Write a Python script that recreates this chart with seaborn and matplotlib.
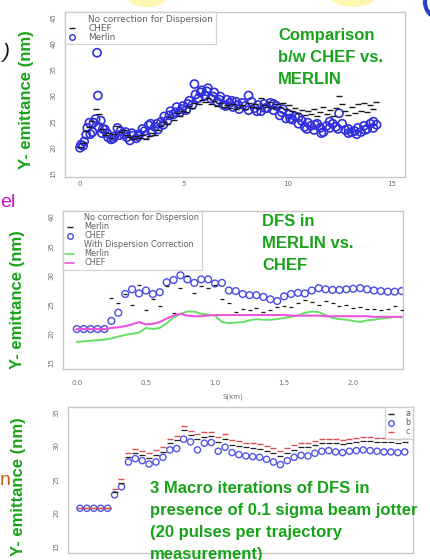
import matplotlib
matplotlib.use("Agg")
import numpy as np
import pandas as pd
import matplotlib.pyplot as plt
import seaborn as sns
from matplotlib.lines import Line2D
from matplotlib.patches import Ellipse, Arc

# ---- panel 1: CHEF vs MERLIN, no dispersion correction (s in km, emittance in nm)
s1 = [0.0, 0.15, 0.3, 0.45, 0.6, 0.75, 0.9, 1.05, 1.2, 1.35, 1.5, 1.65, 1.8, 1.95, 2.1, 2.25,
      2.4, 2.55, 2.7, 2.85, 3.0, 3.15, 3.3, 3.45, 3.6, 3.75, 3.9, 4.05, 4.2, 4.35, 4.5, 4.65,
      4.8, 4.95, 5.1, 5.25, 5.4, 5.55, 5.7, 5.85, 6.0, 6.15, 6.3, 6.45, 6.6, 6.75, 6.9, 7.05,
      7.2, 7.35, 7.5, 7.65, 7.8, 7.95, 8.1, 8.25, 8.4, 8.55, 8.7, 8.85, 9.0, 9.15, 9.3, 9.45,
      9.6, 9.75, 9.9, 10.05, 10.2, 10.35, 10.5, 10.65, 10.8, 10.95, 11.1, 11.25, 11.4, 11.55,
      11.7, 11.85, 12.0, 12.15, 12.3, 12.45, 12.6, 12.75, 12.9, 13.05, 13.2, 13.35, 13.5,
      13.65, 13.8, 13.95, 14.1, 14.25]
merlin1 = [20.0, 20.4, 22.5, 24.8, 23.0, 25.5, 24.0, 22.8, 23.5, 22.0,
           21.6, 22.2, 23.8, 23.2, 22.6, 22.0, 21.4, 22.3, 21.8, 22.6,
           23.6, 22.4, 24.3, 23.0, 24.0, 23.5, 25.0, 26.0, 25.2, 27.0,
           26.4, 27.8, 26.8, 28.0, 27.2, 29.0, 28.2, 30.2, 29.5, 31.0,
           30.0, 31.4, 29.4, 30.6, 28.8, 29.8, 28.2, 29.2, 28.6, 27.8,
           28.8, 27.4, 28.6, 28.0, 27.2, 28.8, 27.6, 28.2, 27.0, 28.4,
           27.6, 28.6, 27.2, 28.0, 26.2, 27.4, 25.6, 26.4, 25.4, 26.0,
           24.6, 25.2, 24.0, 24.8, 24.2, 23.4, 24.6, 23.8, 23.0, 24.2,
           23.8, 24.6, 24.0, 26.6, 24.6, 23.4, 23.6, 23.0, 23.2, 23.8,
           23.0, 24.2, 23.6, 24.6, 23.8, 24.4]
chef1 = [20.2, 21.0, 23.2, 24.0, 25.2, 27.5, 26.4, 23.6, 22.4, 22.8,
         21.8, 22.6, 24.2, 23.0, 23.4, 22.4, 22.0, 21.6, 22.2, 21.8,
         22.4, 21.6, 22.2, 22.8, 22.4, 23.4, 24.2, 25.0, 24.6, 25.8,
         25.4, 26.6, 26.0, 27.0, 26.8, 28.0, 27.6, 28.6, 28.4, 29.2,
         28.8, 29.6, 28.4, 29.0, 28.0, 28.6, 27.8, 28.2, 27.6, 28.4,
         27.4, 27.8, 28.2, 27.4, 28.6, 27.8, 28.4, 27.6, 29.6, 28.2,
         27.8, 28.8, 27.6, 28.4, 27.8, 28.6, 27.4, 28.2, 27.0, 27.6,
         26.6, 27.2, 26.2, 27.0, 26.4, 27.4, 26.0, 26.8, 27.8, 26.4,
         27.2, 26.0, 27.6, 30.0, 28.4, 27.0, 26.2, 27.8, 26.6, 28.4,
         27.0, 28.6, 26.8, 28.2, 27.4, 28.8]
# extra Merlin points in between (incl. the two early outliers)
merlin1_extra_s = [0.05, 0.2, 0.35, 0.5, 0.65, 0.82, 0.86, 1.0, 1.1, 1.3, 1.6, 1.9, 2.2, 2.5,
                   2.8, 3.1, 3.4, 3.7, 4.0, 4.3, 4.6, 4.9, 5.2, 5.5, 5.8, 6.1, 6.4, 6.7, 7.0,
                   7.3, 7.6, 8.1, 8.5, 8.9, 9.3, 9.7, 10.1, 10.5, 10.9, 11.3, 11.6, 12.0,
                   12.4, 12.9, 13.3, 13.7, 14.1]
merlin1_extra_y = [20.6, 21.2, 23.8, 22.6, 24.8, 38.2, 30.0, 25.2, 23.6, 22.8, 21.8, 22.4,
                   23.0, 22.8, 22.2, 23.2, 24.6, 24.6, 24.4, 26.2, 26.8, 27.4, 28.4, 32.2,
                   30.6, 30.8, 29.8, 29.2, 28.0, 29.0, 28.2, 30.0, 27.0, 27.6, 28.4, 26.8,
                   25.6, 25.8, 23.6, 24.4, 22.8, 25.0, 23.6, 22.8, 22.6, 23.4, 25.0]

# ---- panels 2 and 3 share the same s grid
s2 = [0.0, 0.05, 0.1, 0.15, 0.2, 0.25, 0.3, 0.35, 0.4, 0.45, 0.5, 0.55, 0.6, 0.65, 0.7, 0.75,
      0.8, 0.85, 0.9, 0.95, 1.0, 1.05, 1.1, 1.15, 1.2, 1.25, 1.3, 1.35, 1.4, 1.45, 1.5, 1.55,
      1.6, 1.65, 1.7, 1.75, 1.8, 1.85, 1.9, 1.95, 2.0, 2.05, 2.1, 2.15, 2.2, 2.25, 2.3, 2.35]
merlin2_nocorr = [20.8, 20.8, 20.8, 20.8, 20.8, 26.1, 25.2, 26.8, 25.0, 28.3, 24.0, 26.0,
                  24.8, 28.2, 23.6, 27.8, 29.8, 27.0, 28.2, 27.8, 28.4, 26.0, 25.2, 23.8,
                  24.3, 24.0, 24.4, 23.7, 24.1, 24.5, 24.8, 24.5, 25.2, 25.8, 25.5, 25.0,
                  25.6, 25.2, 24.7, 25.0, 24.4, 24.5, 24.2, 24.3, 24.0, 24.2, 24.8, 24.0]
chef2_nocorr = [20.8, 20.8, 20.8, 20.8, 20.8, 22.2, 23.6, 26.8, 27.6, 26.9, 27.4, 26.8,
                27.1, 28.8, 29.2, 30.0, 29.3, 28.7, 29.3, 29.3, 28.6, 28.7, 27.4, 27.3,
                26.8, 26.6, 26.6, 26.3, 25.9, 25.6, 26.4, 26.8, 27.0, 26.9, 27.4, 27.8,
                27.6, 27.5, 27.5, 27.6, 27.7, 27.8, 27.6, 27.4, 27.3, 27.2, 27.2, 27.3]
merlin2_corr = [18.6, 18.7, 18.8, 18.9, 19.0, 19.2, 19.5, 19.8, 20.0, 20.2, 21.0, 20.8,
                21.0, 21.8, 22.8, 23.4, 23.8, 23.8, 23.4, 23.3, 23.1, 22.0, 21.8, 21.9,
                22.0, 22.3, 22.5, 22.4, 22.4, 22.5, 22.7, 22.9, 23.1, 23.6, 23.8, 23.7,
                23.2, 22.7, 22.5, 22.4, 22.2, 22.0, 22.3, 22.4, 22.6, 22.7, 22.9, 22.8]
chef2_corr = [20.8, 20.8, 20.8, 20.8, 20.8, 21.0, 21.1, 21.3, 21.6, 22.0, 21.6, 21.7,
              22.0, 22.6, 23.1, 23.4, 23.1, 23.0, 23.0, 23.1, 23.2, 23.2, 23.2, 23.2,
              23.2, 23.2, 23.2, 23.2, 23.2, 23.2, 23.2, 23.1, 23.1, 23.1, 23.1, 23.1,
              23.0, 23.0, 23.0, 23.0, 23.0, 23.0, 23.0, 22.9, 22.9, 22.9, 22.9, 22.9]

# ---- panel 3: three macro iterations
iter_a = [20.7, 20.7, 20.7, 20.7, 20.7, 23.2, 24.4, 28.4, 28.9, 28.6, 28.2, 28.7,
          29.1, 30.4, 30.9, 32.4, 31.6, 31.0, 31.4, 31.5, 30.6, 31.0, 30.2, 30.0,
          29.8, 29.7, 29.6, 29.3, 29.0, 28.5, 29.0, 29.4, 29.8, 29.8, 30.1, 30.4,
          30.5, 30.4, 30.3, 30.4, 30.6, 30.7, 30.7, 30.6, 30.6, 30.6, 30.5, 30.6]
iter_b = [20.7, 20.7, 20.7, 20.7, 20.7, 22.7, 23.9, 27.6, 28.1, 27.8, 27.3, 27.6,
          28.3, 29.4, 29.6, 31.0, 30.6, 29.4, 30.4, 30.5, 29.2, 29.8, 29.0, 28.7,
          28.5, 28.4, 28.3, 28.0, 27.6, 27.2, 27.8, 28.3, 28.6, 28.5, 28.9, 29.2,
          29.3, 29.1, 29.0, 29.2, 29.3, 29.4, 29.3, 29.2, 29.1, 29.1, 29.0, 29.1]
iter_c = [20.7, 20.7, 20.7, 20.7, 20.7, 23.6, 25.0, 29.0, 29.6, 29.3, 29.0, 29.4,
          29.8, 31.1, 31.5, 33.0, 32.2, 31.7, 32.0, 32.1, 31.3, 31.7, 30.9, 30.7,
          30.5, 30.4, 30.3, 30.0, 29.7, 29.3, 29.7, 30.1, 30.4, 30.4, 30.7, 31.0,
          31.1, 31.0, 30.9, 31.0, 31.2, 31.3, 31.3, 31.2, 31.2, 31.2, 31.1, 31.2]

GREEN = "#17a317"
BLUE = "#2f2fe0"

sns.set_style("white")
plt.rcParams["font.family"] = ["Liberation Sans", "DejaVu Sans"]

fig = plt.figure(figsize=(4.3, 5.6), dpi=100)


def px_box(left, top, right, bottom):
    # axes rectangle from pixel edges of the 430x560 canvas
    return [left / 430, 1 - bottom / 560, (right - left) / 430, (bottom - top) / 560]


def r_style(ax, xlim, ylim, xticks, xlabels, yticks):
    ax.set_xlim(*xlim)
    ax.set_ylim(*ylim)
    ax.set_xticks(xticks)
    ax.set_xticklabels(xlabels, family="DejaVu Sans")
    ax.set_yticks(yticks)
    ax.set_yticklabels([str(v) for v in yticks], rotation=90, va="center",
                       family="DejaVu Sans")
    for sp in ax.spines.values():
        sp.set_color("#c8c8c8")
        sp.set_linewidth(1.0)
    ax.tick_params(axis="both", length=4, width=0.8, color="#b8b8b8",
                   labelsize=5, labelcolor="#707070", pad=2)
    ax.set_xlabel("")
    ax.set_ylabel("")


def legend_box(ax, handles, loc, anchor, size=6.0):
    leg = ax.legend(handles=handles, loc=loc, bbox_to_anchor=anchor, borderaxespad=0,
                    prop={"family": "DejaVu Sans", "size": size}, frameon=True,
                    fancybox=False, handlelength=1.0, handletextpad=1.3, borderpad=0.3,
                    labelspacing=0.0)
    leg.get_frame().set_edgecolor("#c8c8c8")
    leg.get_frame().set_linewidth(0.9)
    for t in leg.get_texts():
        t.set_color("#606060")
    return leg


# ---------------- panel 1
ax1 = fig.add_axes(px_box(65, 12, 405, 177))
df_merlin1 = pd.DataFrame({"s": s1 + merlin1_extra_s, "emit": merlin1 + merlin1_extra_y})
df_chef1 = pd.DataFrame({"s": s1, "emit": chef1})
sns.scatterplot(data=df_chef1, x="s", y="emit", ax=ax1, marker="_", color="#1a1a1a",
                s=14, linewidth=1.0, legend=False, zorder=3)
sns.scatterplot(data=df_merlin1, x="s", y="emit", ax=ax1, marker="o", facecolors="none",
                edgecolor=BLUE, s=34, linewidth=1.2, legend=False, zorder=2)
r_style(ax1, (-0.72, 15.62), (14.4, 46.0), [0, 5, 10, 15], ["0", "5", "10", "15"],
        [15, 20, 25, 30, 35, 40, 45])
ax1.tick_params(axis="x", length=2, pad=1)
legend_box(ax1, [
    Line2D([], [], linestyle="none", label="No correction for Dispersion"),
    Line2D([], [], linestyle="none", marker="_", color="#1a1a1a", markersize=4, label="CHEF"),
    Line2D([], [], linestyle="none", marker="o", mfc="none", mec=BLUE, markersize=4,
           label="Merlin"),
], "upper left", (0, 1), size=6.4)

# ---------------- panel 2
ax2 = fig.add_axes(px_box(63, 211, 403, 369))
df2 = pd.DataFrame({"s": s2, "merlin_nc": merlin2_nocorr, "chef_nc": chef2_nocorr,
                    "merlin_c": merlin2_corr, "chef_c": chef2_corr})
sns.scatterplot(data=df2, x="s", y="merlin_nc", ax=ax2, marker="_", color="#1a1a1a",
                s=12, linewidth=0.9, legend=False, zorder=3)
sns.scatterplot(data=df2, x="s", y="chef_nc", ax=ax2, marker="o", facecolors="none",
                edgecolor="#4a4ae6", s=24, linewidth=1.0, legend=False, zorder=2)
sns.lineplot(data=df2, x="s", y="merlin_c", ax=ax2, color="#66e066", linewidth=1.4,
             estimator=None, errorbar=None, legend=False, zorder=4)
sns.lineplot(data=df2, x="s", y="chef_c", ax=ax2, color="#ee55dd", linewidth=1.5,
             estimator=None, errorbar=None, legend=False, zorder=5)
r_style(ax2, (-0.10, 2.36), (13.97, 41.0), [0.0, 0.5, 1.0, 1.5, 2.0],
        ["0.0", "0.5", "1.0", "1.5", "2.0"], [15, 20, 25, 30, 35, 40])
ax2.tick_params(axis="x", pad=4)
legend_box(ax2, [
    Line2D([], [], linestyle="none", label="No correction for Dispersion"),
    Line2D([], [], linestyle="none", marker="_", color="#1a1a1a", markersize=4, label="Merlin"),
    Line2D([], [], linestyle="none", marker="o", mfc="none", mec="#4a4ae6", markersize=4,
           label="CHEF"),
    Line2D([], [], linestyle="none", label="With Dispersion Correction"),
    Line2D([], [], color="#66e066", linewidth=1.2, label="Merlin"),
    Line2D([], [], color="#ee55dd", linewidth=1.2, label="CHEF"),
], "upper left", (0, 1), size=5.9)

# ---------------- panel 3 (its x tick labels fall below the slide crop)
ax3 = fig.add_axes(px_box(68, 407, 413, 553))
df3 = pd.DataFrame({"s": s2, "a": iter_a, "b": iter_b, "c": iter_c})
sns.scatterplot(data=df3, x="s", y="a", ax=ax3, marker="_", color="#222222",
                s=16, linewidth=0.9, legend=False, zorder=3)
sns.scatterplot(data=df3, x="s", y="b", ax=ax3, marker="o", facecolors="none",
                edgecolor="#5555e8", s=20, linewidth=1.0, legend=False, zorder=2)
sns.scatterplot(data=df3, x="s", y="c", ax=ax3, marker="_", color="#e05050",
                s=20, linewidth=1.0, legend=False, zorder=4)
r_style(ax3, (-0.087, 2.41), (14.03, 35.8), [0.0, 0.5, 1.0, 1.5, 2.0],
        ["", "", "", "", ""], [15, 20, 25, 30, 35])
legend_box(ax3, [
    Line2D([], [], linestyle="none", marker="_", color="#222222", markersize=4, label="a"),
    Line2D([], [], linestyle="none", marker="o", mfc="none", mec="#5555e8", markersize=4,
           label="b"),
    Line2D([], [], linestyle="none", marker="_", color="#e05050", markersize=4, label="c"),
], "upper right", (1, 1), size=5.8)

fig.text(233 / 430, 1 - 397 / 560, "S(km)", fontsize=5, color="#707070",
         ha="center", va="center", family="DejaVu Sans")

# ---------------- slide text around the plots
ylab = dict(fontsize=12, fontweight="bold", color=GREEN, rotation=90,
            ha="center", va="center")
fig.text(27 / 430, 1 - 100 / 560, "Y- emittance (nm)", **ylab)
fig.text(18 / 430, 1 - 300 / 560, "Y- emittance (nm)", **ylab)
fig.text(19 / 430, 1 - 487 / 560, "Y- emittance (nm)", **ylab)

note = dict(fontsize=12, fontweight="bold", color=GREEN, ha="left", va="top",
            linespacing=1.57)
fig.text(278 / 430, 1 - 28 / 560, "Comparison\nb/w CHEF vs.\nMERLIN", **note)
fig.text(262 / 430, 1 - 214 / 560, "DFS in\nMERLIN vs.\nCHEF", **note)
fig.text(150 / 430, 1 - 481 / 560,
         "3 Macro iterations of DFS in\npresence of 0.1 sigma beam jotter\n"
         "(20 pulses per trajectory\nmeasurement)", **note)

fig.text(2 / 430, 1 - 53 / 560, ")", fontsize=15, color="#111111", ha="left", va="center",
         style="italic")
fig.text(0, 1 - 207 / 560, "el", fontsize=14, color="#d010c8", ha="left",
         va="baseline")
fig.text(0, 1 - 485 / 560, "n", fontsize=14, color="#b8661e", ha="left",
         va="baseline")

# decorations cut off at the top edge of the slide
for cx, w in [(147, 40), (353, 46)]:
    fig.add_artist(Ellipse((cx / 430, 1 + 4 / 560), w / 430, 22 / 560,
                           transform=fig.transFigure, color="#fff6b0", lw=0))
fig.add_artist(Arc((442 / 430, 1 - 2 / 560), 34 / 430, 34 / 560, theta1=140, theta2=230,
                   transform=fig.transFigure, color="#2545c8", lw=3))

fig.savefig("out.png", dpi=100)
